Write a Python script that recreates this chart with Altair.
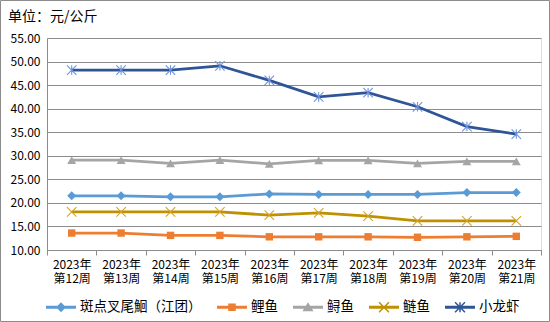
import altair as alt
import pandas as pd

weeks = ["2023年\n第12周", "2023年\n第13周", "2023年\n第14周", "2023年\n第15周", "2023年\n第16周",
         "2023年\n第17周", "2023年\n第18周", "2023年\n第19周", "2023年\n第20周", "2023年\n第21周"]

series_names = ["斑点叉尾鮰（江团）", "鲤鱼", "鲟鱼", "鲢鱼", "小龙虾"]
catfish = [21.5, 21.5, 21.3, 21.3, 21.9, 21.8, 21.8, 21.8, 22.2, 22.2]
carp = [13.6, 13.6, 13.1, 13.1, 12.8, 12.8, 12.8, 12.7, 12.8, 12.9]
sturgeon = [29.1, 29.1, 28.4, 29.1, 28.3, 29.0, 29.0, 28.4, 28.8, 28.8]
silver_carp = [18.1, 18.1, 18.1, 18.1, 17.4, 17.9, 17.2, 16.2, 16.2, 16.2]
crayfish = [48.2, 48.2, 48.2, 49.1, 46.0, 42.5, 43.4, 40.4, 36.2, 34.6]
y_ticks = [10, 15, 20, 25, 30, 35, 40, 45, 50, 55]
title_text = "单位：元/公斤"

values = [catfish, carp, sturgeon, silver_carp, crayfish]
line_colors = ["#5B9BD5", "#ED7D31", "#A5A5A5", "#BF9000", "#2F5597"]
marker_colors = ["#5B9BD5", "#ED7D31", "#A5A5A5", "#D0A42A", "#6E93DC"]

X_PATH = "M-1,-1L1,1M-1,1L1,-1"
STAR_PATH = "M-1,-1L1,1M-1,1L1,-1M0,-1L0,1"
marker_shapes = ["diamond", "square", "triangle-up", X_PATH, STAR_PATH]
marker_sizes = [80, 55, 80, 90, 90]
marker_filled = [True, True, True, False, False]

# legend symbols: a thin bar (line) plus the marker, all filled, clockwise
LINE = "M-1,-0.1H1V0.1H-1Z"
a, d = 0.33, 0.035
XM = (f"M{-a+d},{-a-d}L{a+d},{a-d}L{a-d},{a+d}L{-a-d},{-a+d}Z"
      f"M{a+d},{-a+d}L{-a+d},{a+d}L{-a-d},{a-d}L{a-d},{-a-d}Z")
VM = f"M-0.05,{-a}L0.05,{-a}L0.05,{a}L-0.05,{a}Z"
legend_paths = [
    LINE + "M0,-0.33L0.33,0L0,0.33L-0.33,0Z",
    LINE + "M-0.25,-0.25H0.25V0.25H-0.25Z",
    LINE + "M0,-0.33L0.37,0.27L-0.37,0.27Z",
    LINE + XM,
    LINE + XM + VM,
]

rows = []
for name, vals in zip(series_names, values):
    for w, v in zip(weeks, vals):
        rows.append({"week": w, "series": name, "value": v})
df = pd.DataFrame(rows)

FONT = "Noto Sans CJK SC"
GRID = "#8C8C8C"

x_enc = alt.X("week:N", sort=weeks,
              scale=alt.Scale(type="band", paddingInner=0, paddingOuter=0),
              axis=alt.Axis(title=None, labelAngle=0, tickBand="extent", tickSize=5,
                            tickColor=GRID, domainColor=GRID, labelPadding=4,
                            labelExpr="split(datum.label, '\\n')", labelFontSize=12,
                            labelLineHeight=14, labelColor="#000", labelFont=FONT,
                            grid=False))
y_enc = alt.Y("value:Q",
              scale=alt.Scale(domain=[10, 55], nice=False, zero=False),
              axis=alt.Axis(title=None, values=y_ticks, format=".2f", grid=True,
                            gridColor=GRID, domainColor=GRID, tickSize=0,
                            labelPadding=7, labelFontSize=12, labelColor="#000",
                            labelFont=FONT))

layers = []
for i, name in enumerate(series_names):
    sub = alt.Chart(df).transform_filter(alt.datum.series == name)
    layers.append(sub.mark_line(color=line_colors[i], strokeWidth=2.75).encode(x=x_enc, y=y_enc))
    if marker_filled[i]:
        pm = sub.mark_point(shape=marker_shapes[i], size=marker_sizes[i], filled=True,
                            color=marker_colors[i], opacity=1)
    else:
        pm = sub.mark_point(shape=marker_shapes[i], size=marker_sizes[i], filled=False,
                            color=marker_colors[i], strokeWidth=1.1, opacity=1)
    layers.append(pm.encode(x=x_enc, y=y_enc))

legend_layer = alt.Chart(df).mark_point(filled=True, opacity=0).encode(
    x=x_enc, y=y_enc,
    color=alt.Color("series:N",
                    scale=alt.Scale(domain=series_names, range=line_colors),
                    legend=alt.Legend(title=None, orient="none", direction="horizontal",
                                      legendX=-1, legendY=254, symbolSize=900,
                                      symbolOpacity=1, symbolStrokeWidth=0,
                                      labelFontSize=13.5, labelFont=FONT, labelColor="#000",
                                      labelOffset=4, columnPadding=15, labelLimit=300)),
    shape=alt.Shape("series:N", scale=alt.Scale(domain=series_names, range=legend_paths),
                    legend=None),
)

border = alt.Chart(pd.DataFrame({"b": [0]})).mark_rect(
    fill=None, stroke="#8C8C8C", strokeWidth=1
).encode(x=alt.value(-46.5), x2=alt.value(502.5), y=alt.value(-37.5), y2=alt.value(283.5))

title = alt.Chart(pd.DataFrame({"t": [title_text]})).mark_text(
    align="left", baseline="middle", fontSize=14, font=FONT, color="#000"
).encode(text="t:N", x=alt.value(-39), y=alt.value(-21))

chart = alt.layer(border, *layers, legend_layer, title).properties(
    width=494, height=212,
    padding={"left": 47, "top": 38, "right": 9, "bottom": 72},
    autosize=alt.AutoSizeParams(type="none"),
).configure_view(stroke=None).configure(background="white")

chart.save("out.html", embed_options={"renderer": "svg", "actions": False})
